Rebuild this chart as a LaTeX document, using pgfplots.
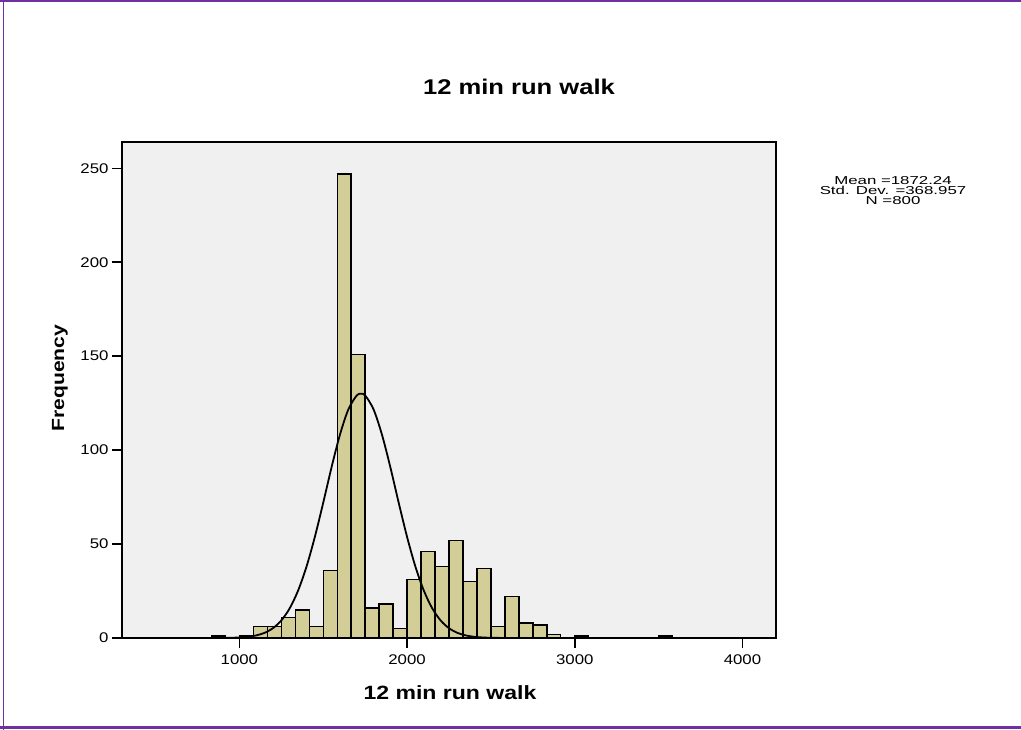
\documentclass[border=0pt]{standalone}
\usepackage{fontspec}
\setmainfont{Liberation Sans}[FakeStretch=1.2]
\usepackage{graphicx}
\usepackage{pgfplots}
\pgfplotsset{compat=1.18}
\definecolor{framepurple}{HTML}{7030A0}
\definecolor{plotbg}{HTML}{F0F0F0}
\definecolor{barfill}{HTML}{D3CE97}
\begin{document}
\begin{tikzpicture}[x=1pt,y=1pt]
\path[use as bounding box] (0,0) rectangle (1021,730);
\fill[white] (0,0) rectangle (1021,730);
\draw[framepurple, line width=1.5pt] (3.5,0) -- (3.5,730);
\draw[framepurple, line width=2pt] (0,729) -- (1021,729);
\draw[framepurple, line width=3pt] (0,2.5) -- (1021,2.5);
\begin{axis}[
  at={(122pt,92pt)}, anchor=south west,
  width=654pt, height=496pt, scale only axis,
  xmin=300, xmax=4200, ymin=0, ymax=264,
  axis background/.style={fill=plotbg},
  axis line style={black, line width=1.5pt},
  axis on top=true,
  xtick={1000,2000,3000,4000},
  ytick={0,50,100,150,200,250},
  tick pos=left,
  tick align=outside,
  major tick length=10pt,
  every tick/.style={black, line width=1.5pt},
  /pgf/number format/assume math mode=true,
  /pgf/number format/1000 sep={},
  tick label style={font=\fontsize{14}{14}\selectfont, text=black},
  xticklabel style={yshift=-3pt},
  title={12 min run walk},
  title style={font=\fontsize{21.3}{21.3}\selectfont\bfseries, at={(axis description cs:0.607,1.0988)}, anchor=center},
  xlabel={12 min run walk},
  xlabel style={font=\fontsize{19.2}{19.2}\selectfont\bfseries, at={(axis description cs:0.5015,-0.1109)}, anchor=center},
  ylabel={Frequency},
  ylabel style={font=\fontsize{17.6}{17.6}\selectfont\bfseries, at={(axis description cs:-0.0948,0.524)}, anchor=center},
]
\addplot[ybar, bar width=83.333, bar shift=0pt, fill=barfill, draw=black, line width=1.4pt]
coordinates {
(875,1) (1041.67,1) (1125,6) (1208.33,6) (1291.67,11) (1375,15) (1458.33,6)
(1541.67,36) (1625,247) (1708.33,151) (1791.67,16) (1875,18) (1958.33,5)
(2041.67,31) (2125,46) (2208.33,38) (2291.67,52) (2375,30) (2458.33,37)
(2541.67,6) (2625,22) (2708.33,8) (2791.67,7) (2875,2) (3041.67,1) (3541.67,1)
};
\addplot[black, line width=1.8pt, smooth, mark=none]
coordinates {
(900,0.1) (950,0.13) (1000,0.28) (1050,0.64) (1100,1.36) (1150,2.74) (1200,5.21)
(1250,9.34) (1300,15.8) (1350,25.2) (1400,37.9) (1450,53.8) (1500,72.0)
(1550,91.0) (1600,108.3) (1650,121.7) (1700,129.1) (1725,130) (1750,129.1)
(1800,121.7) (1850,108.3) (1900,91.0) (1950,72.0) (2000,53.8) (2050,37.9)
(2100,25.2) (2150,15.8) (2200,9.34) (2250,5.21) (2300,2.74) (2350,1.36)
(2400,0.64) (2450,0.28) (2500,0.12) (2550,0.05)
};
\end{axis}
\node[font=\fontsize{11.5}{11.5}\selectfont, inner sep=0pt] at (893,549.5) {\scalebox{1.22}[1]{Mean =1872.24}};
\node[font=\fontsize{11.5}{11.5}\selectfont, inner sep=0pt] at (893,539.5) {\scalebox{1.22}[1]{Std. Dev. =368.957}};
\node[font=\fontsize{11.5}{11.5}\selectfont, inner sep=0pt] at (893,529.5) {\scalebox{1.22}[1]{N =800}};
\end{tikzpicture}
\end{document}
